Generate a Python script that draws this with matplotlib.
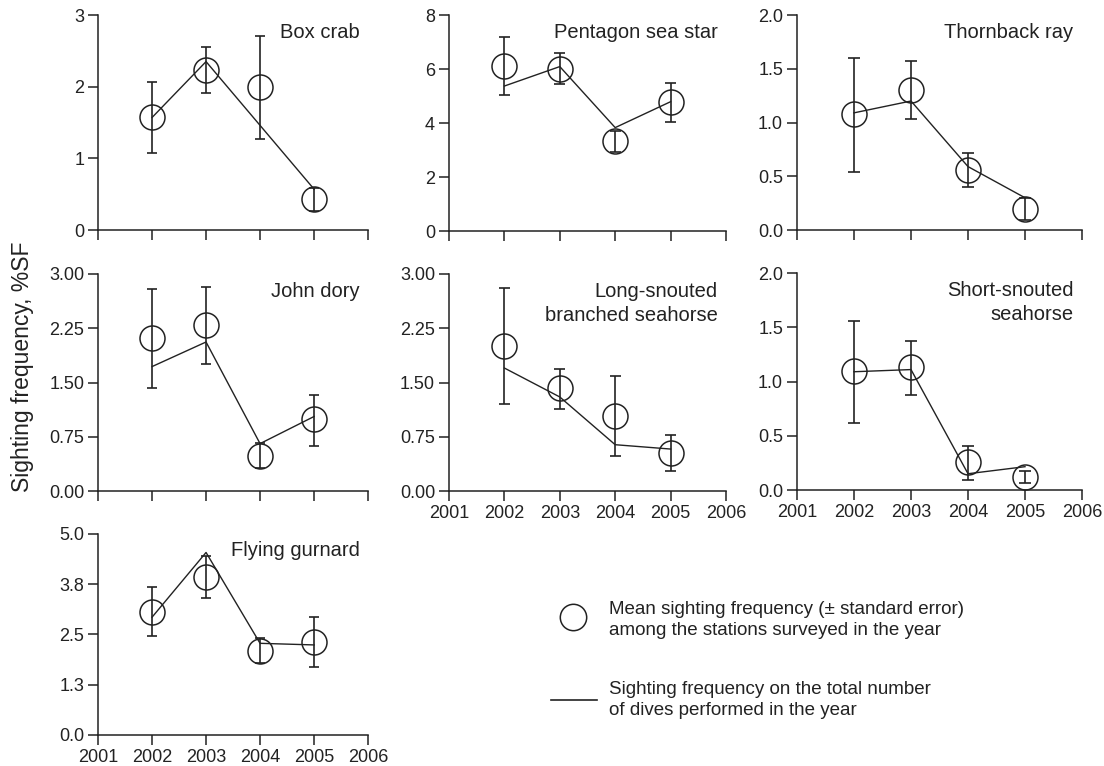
import matplotlib
matplotlib.use("Agg")
import matplotlib.pyplot as plt
from matplotlib.lines import Line2D

plt.rcParams['font.family'] = ['Liberation Sans', 'DejaVu Sans']

YEARS = [2002, 2003, 2004, 2005]
XTICKS = [2001, 2002, 2003, 2004, 2005, 2006]

# mean sighting frequency (circles), error bar ends, and total-dives line
box_mean = [1.58, 2.23, 1.99, 0.43]
box_hi = [2.07, 2.56, 2.71, 0.58]
box_lo = [1.08, 1.91, 1.27, 0.27]
box_line = [1.57, 2.35, 1.46, 0.57]

pen_mean = [6.12, 6.0, 3.33, 4.77]
pen_hi = [7.17, 6.58, 3.70, 5.47]
pen_lo = [5.04, 5.43, 2.91, 4.02]
pen_line = [5.37, 6.09, 3.83, 4.79]

tho_mean = [1.076, 1.30, 0.56, 0.20]
tho_hi = [1.60, 1.57, 0.72, 0.30]
tho_lo = [0.54, 1.03, 0.40, 0.09]
tho_line = [1.09, 1.20, 0.59, 0.30]

jd_mean = [2.12, 2.30, 0.48, 0.99]
jd_hi = [2.79, 2.82, 0.66, 1.33]
jd_lo = [1.43, 1.75, 0.32, 0.62]
jd_line = [1.72, 2.06, 0.655, 1.03]

ls_mean = [2.01, 1.43, 1.04, 0.53]
ls_hi = [2.80, 1.69, 1.59, 0.77]
ls_lo = [1.20, 1.14, 0.48, 0.27]
ls_line = [1.70, 1.30, 0.64, 0.58]

ss_mean = [1.10, 1.13, 0.255, 0.12]
ss_hi = [1.56, 1.37, 0.41, 0.175]
ss_lo = [0.62, 0.88, 0.09, 0.06]
ss_line = [1.09, 1.11, 0.15, 0.215]

fg_mean = [3.07, 3.94, 2.10, 2.32]
fg_hi = [3.69, 4.46, 2.40, 2.94]
fg_lo = [2.45, 3.40, 1.80, 1.70]
fg_line = [2.93, 4.54, 2.28, 2.24]

# (title, mean, hi, lo, line, yticks, yticklabels, show x labels, axes rect)
panels = [
    ("Box crab", box_mean, box_hi, box_lo, box_line,
     [0, 1, 2, 3], ["0", "1", "2", "3"], False, [0.0888, 0.6997, 0.2446, 0.2807]),
    ("Pentagon sea star", pen_mean, pen_hi, pen_lo, pen_line,
     [0, 2, 4, 6, 8], ["0", "2", "4", "6", "8"], False, [0.4067, 0.6984, 0.2509, 0.2820]),
    ("Thornback ray", tho_mean, tho_hi, tho_lo, tho_line,
     [0, 0.5, 1.0, 1.5, 2.0], ["0.0", "0.5", "1.0", "1.5", "2.0"], False, [0.7219, 0.6997, 0.2582, 0.2807]),
    ("John dory", jd_mean, jd_hi, jd_lo, jd_line,
     [0, 0.75, 1.5, 2.25, 3.0], ["0.00", "0.75", "1.50", "2.25", "3.00"], False, [0.0888, 0.3590, 0.2446, 0.2833]),
    ("Long-snouted\nbranched seahorse", ls_mean, ls_hi, ls_lo, ls_line,
     [0, 0.75, 1.5, 2.25, 3.0], ["0.00", "0.75", "1.50", "2.25", "3.00"], True, [0.4067, 0.3590, 0.2509, 0.2833]),
    ("Short-snouted\nseahorse", ss_mean, ss_hi, ss_lo, ss_line,
     [0, 0.5, 1.0, 1.5, 2.0], ["0.0", "0.5", "1.0", "1.5", "2.0"], True, [0.7219, 0.3603, 0.2582, 0.2833]),
    ("Flying gurnard", fg_mean, fg_hi, fg_lo, fg_line,
     [0, 1.25, 2.5, 3.75, 5.0], ["0.0", "1.3", "2.5", "3.8", "5.0"], True, [0.0888, 0.0405, 0.2446, 0.2624]),
]

INK = "#222222"

fig = plt.figure(figsize=(11.04, 7.66), dpi=100)

for title, mean, hi, lo, line, yt, ytl, xlab, rect in panels:
    ax = fig.add_axes(rect)
    ax.vlines(YEARS, lo, hi, color=INK, lw=1.2)
    ax.hlines(lo, [y - 0.1 for y in YEARS], [y + 0.1 for y in YEARS], color=INK, lw=1.2)
    ax.hlines(hi, [y - 0.1 for y in YEARS], [y + 0.1 for y in YEARS], color=INK, lw=1.2)
    ax.plot(YEARS, mean, 'o', ms=18, mfc='none', mec=INK, mew=1.1)
    ax.plot(YEARS, line, '-', color=INK, lw=1.0)
    ax.set_xlim(2001, 2006)
    ax.set_ylim(yt[0], yt[-1])
    ax.set_xticks(XTICKS)
    ax.set_yticks(yt)
    ax.set_yticklabels(ytl)
    if not xlab:
        ax.set_xticklabels([])
    for s in ("top", "right"):
        ax.spines[s].set_visible(False)
    for s in ("left", "bottom"):
        ax.spines[s].set_color(INK)
        ax.spines[s].set_linewidth(1.1)
    ax.tick_params(direction='out', length=7, width=1.1, color=INK,
                   labelsize=13, labelcolor=INK, pad=3)
    ax.patch.set_visible(False)
    ax.text(0.97, 0.965, title, transform=ax.transAxes, ha='right', va='top',
            fontsize=14.5, color=INK, linespacing=1.35)

fig.text(0.02, 1 - 367 / 766, "Sighting frequency, %SF", rotation=90,
         ha='center', va='center', fontsize=16.5, color=INK)

# legend
fig.add_artist(Line2D([573 / 1104], [1 - 617 / 766], marker='o', ms=19,
                      mfc='none', mec=INK, mew=1.1, transform=fig.transFigure))
fig.text(609 / 1104, 1 - 620 / 766,
         "Mean sighting frequency (\u00b1 standard error)\namong the stations surveyed in the year",
         ha='left', va='center', fontsize=13.5, color=INK, linespacing=1.3)
fig.add_artist(Line2D([551 / 1104, 597 / 1104], [1 - 700 / 766, 1 - 700 / 766],
                      color=INK, lw=1.2, transform=fig.transFigure))
fig.text(609 / 1104, 1 - 700 / 766,
         "Sighting frequency on the total number\nof dives performed in the year",
         ha='left', va='center', fontsize=13.5, color=INK, linespacing=1.3)

fig.savefig("out.png", dpi=100)
